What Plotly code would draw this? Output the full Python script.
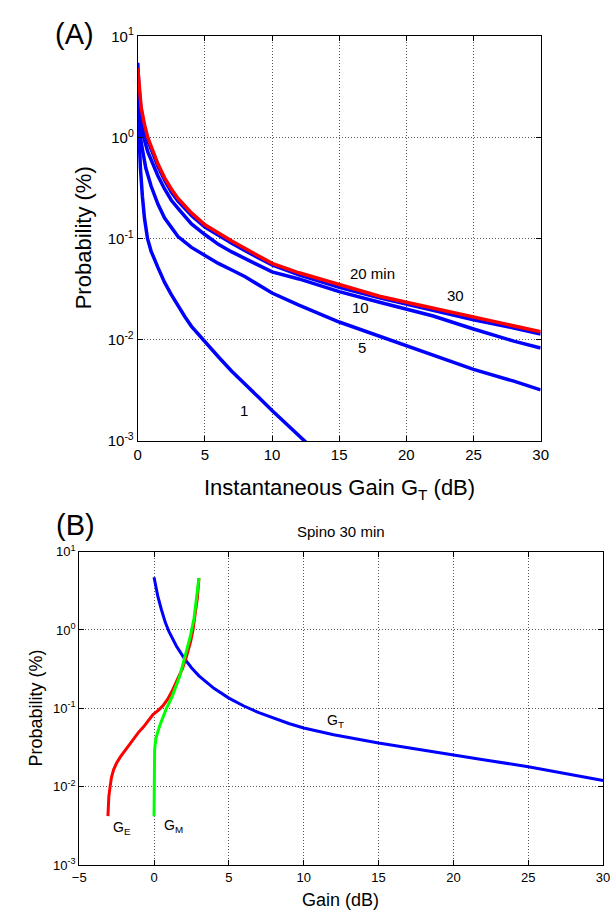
import plotly.graph_objects as go

W, H = 615, 921

# ---------- Panel (A): probability (%) vs instantaneous gain G_T (dB) ----------
x_1 = [0, 0.05, 0.1, 0.2, 0.35, 0.5, 0.73, 1, 1.5, 2, 2.5, 3, 3.5, 4, 5, 6, 7, 8, 9, 10, 11, 12, 12.6]
y_1 = [2.2, 1.3, 0.9, 0.5, 0.26, 0.16, 0.1, 0.075, 0.052, 0.037, 0.028, 0.0215, 0.017, 0.0136,
       0.0095, 0.0068, 0.0049, 0.0036, 0.0027, 0.002, 0.0015, 0.0011, 0.00095]

x_5 = [0, 0.1, 0.2, 0.4, 0.6, 1, 1.5, 2, 2.5, 3, 4, 5, 6, 7, 8, 10, 12, 15, 18, 20, 22, 25, 28, 30]
y_5 = [2.5, 1.4, 1.0, 0.7, 0.5, 0.33, 0.22, 0.16, 0.13, 0.105, 0.082, 0.068, 0.057, 0.049, 0.042,
       0.029, 0.022, 0.015, 0.0108, 0.0088, 0.0071, 0.0051, 0.0039, 0.0032]

x_10 = [0, 0.1, 0.25, 0.45, 0.75, 1, 1.5, 2, 2.5, 3, 4, 5, 6, 7, 8, 10, 12, 15, 18, 20, 22, 25, 28, 30]
y_10 = [3.0, 1.9, 1.35, 1.0, 0.72, 0.6, 0.42, 0.31, 0.24, 0.2, 0.14, 0.11, 0.088, 0.074, 0.064,
        0.047, 0.040, 0.030, 0.0235, 0.020, 0.0172, 0.0128, 0.0097, 0.0083]

x_20 = [0, 0.1, 0.25, 0.5, 0.75, 1, 1.5, 2, 2.5, 3, 4, 5, 6, 7, 8, 10, 12, 15, 18, 20, 22, 25, 28, 30]
y_20 = [5.5, 3.0, 1.9, 1.25, 0.93, 0.77, 0.52, 0.38, 0.29, 0.235, 0.17, 0.13, 0.107, 0.09, 0.076,
        0.055, 0.044, 0.033, 0.026, 0.0225, 0.0195, 0.0158, 0.0131, 0.0114]

x_30 = [0, 0.1, 0.25, 0.5, 0.75, 1, 1.5, 2, 2.5, 3, 4, 5, 6, 7, 8, 10, 12, 15, 18, 20, 22, 25, 28, 30]
y_30 = [4.9, 3.2, 2.0, 1.35, 1.0, 0.82, 0.55, 0.4, 0.31, 0.25, 0.18, 0.137, 0.113, 0.095, 0.08,
        0.057, 0.046, 0.035, 0.027, 0.0235, 0.0205, 0.0166, 0.0138, 0.012]

# ---------- Panel (B): Spino 30 min ----------
x_GT = [0, 0.1, 0.25, 0.5, 0.75, 1, 1.5, 2, 2.5, 3, 4, 5, 6, 7, 8, 9, 10, 12, 15, 18, 20, 22, 25, 28, 30]
y_GT = [4.7, 3.6, 2.7, 1.8, 1.25, 0.95, 0.62, 0.44, 0.33, 0.26, 0.18, 0.135, 0.107, 0.088, 0.075,
        0.064, 0.056, 0.046, 0.036, 0.029, 0.025, 0.022, 0.018, 0.0142, 0.012]

x_GE = [-3.08, -3.06, -3.02, -2.95, -2.85, -2.7, -2.5, -2.25, -2.0, -1.7, -1.4, -1.05, -0.7, -0.35,
        -0.07, 0.3, 0.6, 0.9, 1.2, 1.55, 1.9, 2.2, 2.45, 2.6, 2.75, 2.9, 3.0]
y_GE = [0.0042, 0.0055, 0.0075, 0.0095, 0.013, 0.0165, 0.02, 0.024, 0.028, 0.034, 0.041, 0.049,
        0.058, 0.07, 0.083, 0.095, 0.108, 0.13, 0.165, 0.23, 0.32, 0.48, 0.72, 1.0, 1.6, 2.6, 4.6]

x_GM = [0, 0, 0, 0.04, 0.12, 0.38, 0.8, 1.2, 1.7, 2.0, 2.4, 2.67, 2.75, 2.9, 3.0]
y_GM = [0.0042, 0.01, 0.022, 0.03, 0.041, 0.06, 0.097, 0.14, 0.25, 0.41, 0.79, 1.4, 1.9, 2.8, 4.6]

xticks_A = [0, 5, 10, 15, 20, 25, 30]
xticks_B = [-5, 0, 5, 10, 15, 20, 25, 30]
yticks = [0.001, 0.01, 0.1, 1, 10]
yticktext = ["10<sup>-3</sup>", "10<sup>-2</sup>", "10<sup>-1</sup>", "10<sup>0</sup>", "10<sup>1</sup>"]

FONT = "Arial, Liberation Sans, sans-serif"
BLUE, RED, GREEN = "#0000FF", "#FF0000", "#00FF00"

fig = go.Figure()

for xs, ys, c in [(x_1, y_1, BLUE), (x_5, y_5, BLUE), (x_10, y_10, BLUE),
                  (x_20, y_20, BLUE), (x_30, y_30, RED)]:
    fig.add_trace(go.Scatter(x=xs, y=ys, mode="lines", line=dict(color=c, width=3.5),
                             xaxis="x", yaxis="y", hoverinfo="skip"))

for xs, ys, c in [(x_GT, y_GT, BLUE), (x_GE, y_GE, RED), (x_GM, y_GM, GREEN)]:
    fig.add_trace(go.Scatter(x=xs, y=ys, mode="lines", line=dict(color=c, width=3),
                             xaxis="x2", yaxis="y2", hoverinfo="skip"))


def px(x, y):
    return x / W, 1 - y / H


ax_common = dict(showline=True, linecolor="black", linewidth=1, mirror="ticks",
                 ticks="inside", ticklen=5, tickcolor="black",
                 showgrid=True, gridcolor="rgba(0,0,0,0.65)", griddash="1px,2px", gridwidth=1,
                 zeroline=False)

fig.update_layout(
    width=W, height=H, margin=dict(l=0, r=0, t=0, b=0),
    paper_bgcolor="white", plot_bgcolor="white", showlegend=False,
    font=dict(family=FONT, color="black"),
    xaxis=dict(domain=[134 / W, 547 / W], range=[0, 30], tickvals=xticks_A,
               tickfont=dict(size=15), anchor="y", **ax_common),
    yaxis=dict(domain=[1 - 439 / H, 1 - 26 / H], type="log", range=[-3, 1],
               tickvals=yticks, ticktext=yticktext, tickfont=dict(size=15),
               anchor="x", **ax_common),
    xaxis2=dict(domain=[74 / W, 611 / W], range=[-5, 30], tickvals=xticks_B,
                tickfont=dict(size=13), anchor="y2", **ax_common),
    yaxis2=dict(domain=[1 - 872 / H, 1 - 552 / H], type="log", range=[-3, 1],
                tickvals=yticks, ticktext=yticktext, tickfont=dict(size=13),
                anchor="x2", **ax_common),
)

ann = []


def add_px(text, x, y, size, angle=0):
    xp, yp = px(x, y)
    ann.append(dict(text=text, x=xp, y=yp, xref="paper", yref="paper", showarrow=False,
                    xanchor="center", yanchor="middle", textangle=angle,
                    font=dict(size=size, family=FONT, color="black")))


add_px("(A)", 69, 23, 29)
add_px("(B)", 70, 525, 29)
add_px("Instantaneous Gain G<sub>T</sub> (dB)", 341, 488, 22)
add_px("Probability (%)", 78, 232, 22, -90)
add_px("Spino 30 min", 342, 531, 15)
add_px("Gain (dB)", 342, 908, 18)
add_px("Probability (%)", 30, 712, 18, -90)

# curve labels in data coordinates (log axis uses log10 values)
for text, x, ly in [("20 min", 17.5, -1.34), ("30", 23.65, -1.56), ("10", 16.6, -1.68),
                    ("5", 16.7, -2.08), ("1", 7.9, -2.70)]:
    ann.append(dict(text=text, x=x, y=ly, xref="x", yref="y", showarrow=False,
                    font=dict(size=15, family=FONT, color="black")))

for text, x, ly in [("G<sub>E</sub>", -2.15, -2.53), ("G<sub>M</sub>", 1.3, -2.5),
                    ("G<sub>T</sub>", 12.1, -1.16)]:
    ann.append(dict(text=text, x=x, y=ly, xref="x2", yref="y2", showarrow=False,
                    font=dict(size=14, family=FONT, color="black")))

fig.update_layout(annotations=ann)

fig.write_html("out.html")
